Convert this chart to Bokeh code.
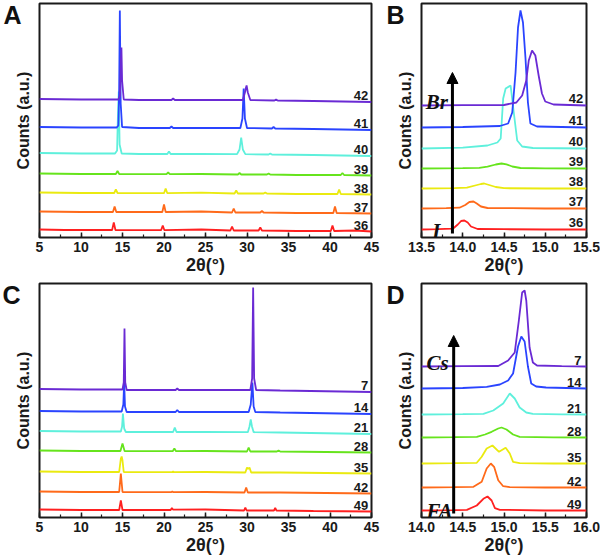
from bokeh.plotting import figure
from bokeh.layouts import gridplot
from bokeh.models import (Label, Arrow, NormalHead, SingleIntervalTicker, FixedTicker, Range1d,
                          PrintfTickFormatter, Title)
from bokeh.core.properties import value
from bokeh.embed import file_html
from bokeh.resources import INLINE

# ---------------- colours per composition (bottom -> top) ----------------
trace_colors = ["#ff2020", "#ff6a1a", "#eaea10", "#66e41c", "#5ef0dc", "#2a44ff", "#6a2ad4"]

# ---------------- Panel A: full XRD, I -> Br ----------------
a_names = ["36", "37", "38", "39", "40", "41", "42"]
a_offsets = [7, 25, 44, 63, 83, 109, 137]
a36_x = [5, 8, 12, 13.75, 13.95, 14.15, 17, 19.65, 19.85, 20.05, 24.5, 28.0, 28.2, 28.4, 31.4, 31.6, 31.8, 36, 40.1, 40.3, 40.5, 43, 45]
a36_y = [1, 0.5, 0.5, 0.5, 8, 0.5, 0.3, 0.3, 5, 0.3, 1, 0, 4, 0, 0, 3, 0, -0.5, -0.5, 5, -0.5, 0, -1]
a37_x = [5, 10, 13.85, 14.05, 14.25, 17, 19.8, 20.0, 20.2, 24.5, 28.2, 28.4, 28.6, 31.6, 31.8, 32.0, 36, 40.4, 40.6, 40.8, 45]
a37_y = [1, 0.5, 0.5, 6, 0.5, 0.5, 0.5, 8, 0.5, 1, 0, 4, 0, 0, 1.5, 0, -0.5, -0.5, 6, -0.5, -1]
a38_x = [5, 10, 14.0, 14.2, 14.4, 17, 20.0, 20.2, 20.4, 24.5, 28.5, 28.7, 28.9, 32.0, 32.2, 32.4, 36, 40.9, 41.1, 41.3, 45]
a38_y = [1, 0.5, 0.5, 4, 0.5, 0.3, 0.3, 5, 0.3, 0.8, 0, 3, 0, 0, 1, 0, -0.5, -0.5, 4, -0.5, -1]
a39_x = [5, 10, 14.2, 14.4, 14.6, 17, 20.3, 20.5, 20.7, 24.5, 28.9, 29.1, 29.3, 32.4, 32.6, 32.8, 36, 41.3, 41.5, 41.7, 45]
a39_y = [1, 0.5, 0.5, 3.5, 0.5, 0.3, 0.3, 2, 0.3, 0.5, 0, 1.5, 0, 0, 1, 0, -0.5, -0.5, 1.5, -0.5, -1]
a40_x = [5, 10, 14.1, 14.35, 14.45, 14.55, 14.65, 14.9, 17, 20.4, 20.6, 20.8, 24.5, 28.8, 29.1, 29.3, 29.5, 29.8, 32.6, 32.8, 33.0, 38, 45]
a40_y = [1.5, 1, 1, 4, 40, 63, 10, 1, 0.5, 0.5, 3, 0.5, 0.5, 0.3, 5, 17, 5, 0.3, 0, 1, 0, -0.5, -1.5]
a41_x = [5, 10, 14.3, 14.5, 14.6, 14.68, 14.78, 14.95, 17, 20.7, 20.9, 21.1, 25, 29.2, 29.45, 29.6, 29.75, 30.0, 33.0, 33.2, 33.4, 38, 45]
a41_y = [1.5, 1, 1, 3, 40, 118, 25, 1.5, 0.5, 0.5, 2, 0.5, 0.5, 0.5, 10, 40, 10, 0.5, 0, 1.5, 0, -0.5, -1.5]
a42_x = [5, 10, 14.5, 14.7, 14.8, 14.87, 14.95, 15.15, 17, 20.9, 21.1, 21.3, 25, 29.5, 29.75, 29.85, 29.95, 30.1, 30.4, 33.3, 33.5, 33.7, 38, 45]
a42_y = [1.5, 1, 1, 5, 40, 53, 20, 1, 0.5, 0.5, 2, 0.5, 0.5, 0.5, 8, 12, 15, 8, 0.5, 0, 1, 0, -0.5, -1.5]

# ---------------- Panel B: zoom of main peak, I -> Br ----------------
b_offsets = [8, 29, 49, 69, 89, 110, 132]
b36_x = [13.5, 13.7, 13.88, 13.94, 13.98, 14.02, 14.06, 14.1, 14.18, 14.5, 15.0, 15.5]
b36_y = [0, 0.3, 0.8, 5, 8.5, 9, 7, 3, 0.5, 0.3, 0, 0]
b37_x = [13.5, 13.8, 13.96, 14.03, 14.08, 14.13, 14.17, 14.22, 14.3, 14.6, 15.0, 15.5]
b37_y = [0, 0.3, 0.8, 3.5, 6.5, 7, 5, 2, 0.5, 0.3, 0, 0]
b38_x = [13.5, 13.9, 14.05, 14.15, 14.22, 14.26, 14.32, 14.4, 14.5, 15.0, 15.5]
b38_y = [0, 0.3, 0.8, 3, 4.5, 5, 3.5, 1.5, 0.3, 0, 0]
b39_x = [13.5, 14.0, 14.2, 14.3, 14.4, 14.47, 14.53, 14.6, 14.7, 15.0, 15.5]
b39_y = [0, 0.3, 0.6, 1.8, 4, 5, 4.2, 2, 0.5, 0.2, 0]
b40_x = [13.5, 14.0, 14.3, 14.42, 14.46, 14.49, 14.52, 14.58, 14.62, 14.66, 14.72, 14.85, 15.5]
b40_y = [0, 0.8, 3, 6, 10, 50, 60, 63, 35, 8, 2, 0.5, 0]
b41_x = [13.5, 14.0, 14.45, 14.55, 14.6, 14.64, 14.67, 14.7, 14.73, 14.76, 14.79, 14.82, 14.9, 15.5]
b41_y = [0, 0.5, 1.5, 4, 15, 55, 100, 117, 105, 70, 25, 4, 1, 0]
b42_x = [13.5, 14.0, 14.5, 14.65, 14.72, 14.77, 14.8, 14.84, 14.88, 14.92, 14.96, 15.0, 15.1, 15.5]
b42_y = [0, 0.3, 0.5, 3, 10, 25, 45, 55, 50, 30, 12, 4, 1, 0]

# ---------------- Panel C: full XRD, FA -> Cs ----------------
c_names = ["49", "42", "35", "28", "21", "14", "7"]
c_offsets = [7, 25, 45, 66, 85, 105, 127]
c49_x = [5, 10, 14.6, 14.8, 15.0, 18, 20.8, 20.95, 21.1, 25, 29.65, 29.8, 29.95, 33.25, 33.4, 33.55, 38, 45]
c49_y = [1, 0.5, 0.5, 10, 0.5, 0.5, 0.5, 2.5, 0.8, 1, 0, 3, 0, 0, 2.5, 0, -0.5, -1]
c42_x = [5, 10, 14.6, 14.8, 15.0, 18, 20.85, 21.0, 21.15, 25, 29.7, 29.9, 30.1, 34, 45]
c42_y = [1, 0.5, 0.5, 19, 0.5, 0.3, 0.3, 1, 0.3, 0.5, 0, 5, 0, 0, -1]
c35_x = [5, 10, 14.6, 14.8, 14.9, 15.0, 15.15, 18, 21.0, 21.1, 21.2, 25, 29.8, 30.0, 30.15, 30.3, 30.5, 34, 45]
c35_y = [1, 0.5, 0.5, 14, 16, 12, 0.5, 0.3, 0.3, 1, 0.3, 0.5, 0, 5, 3.5, 5, 0, 0, -1]
c28_x = [5, 10, 14.75, 15.0, 15.25, 18, 21.05, 21.25, 21.45, 25, 30.0, 30.2, 30.4, 33.6, 33.8, 34.0, 45]
c28_y = [1, 0.5, 0.5, 8, 0.5, 0.3, 0.3, 3, 0.3, 0.5, 0, 4, 0, 0, 1, 0, -1]
c21_x = [5, 10, 14.8, 14.95, 15.05, 15.2, 15.4, 18, 21.1, 21.3, 21.5, 25, 30.1, 30.3, 30.45, 30.6, 30.8, 34, 45]
c21_y = [1.5, 1, 1, 6, 19, 4, 0.5, 0.5, 0.5, 5, 0.5, 0.5, 0.3, 6, 13, 6, 0.3, 0, -1.5]
c14_x = [5, 10, 14.9, 15.1, 15.2, 15.3, 15.5, 18, 21.4, 21.6, 21.8, 25, 30.2, 30.45, 30.65, 30.8, 31.0, 34, 45]
c14_y = [1.5, 1, 1, 8, 30, 6, 0.5, 0.5, 0.5, 2.5, 0.5, 0.5, 0.5, 8, 30, 6, 0.5, 0, -1.5]
c7_x = [5, 10, 15.0, 15.15, 15.24, 15.33, 15.5, 18, 21.4, 21.6, 21.8, 25, 30.4, 30.62, 30.74, 30.86, 31.1, 34, 45]
c7_y = [1.5, 1, 1, 8, 62, 8, 0.5, 0.5, 0.5, 2, 0.5, 0.5, 0.5, 12, 103, 12, 0.5, 0, -1.5]

# ---------------- Panel D: zoom of main peak, FA -> Cs ----------------
d_offsets = [7, 30, 54, 80, 103, 129, 151]
d49_x = [14.0, 14.4, 14.55, 14.67, 14.75, 14.8, 14.85, 14.89, 14.95, 15.5, 16.0]
d49_y = [0, 0.3, 0.7, 5, 11.7, 14, 10, 2.3, 0.7, 0, 0]
d42_x = [14.0, 14.4, 14.63, 14.73, 14.79, 14.84, 14.88, 14.93, 14.99, 15.07, 15.5, 16.0]
d42_y = [0, 0.3, 0.7, 5.7, 19, 24, 20.7, 7.3, 1.3, 0.3, 0, 0]
d35_x = [14.0, 14.4, 14.67, 14.73, 14.79, 14.86, 14.94, 15.02, 15.07, 15.11, 15.19, 15.6, 16.0]
d35_y = [0, 0.3, 0.7, 6.7, 15, 18, 11.7, 15.7, 10, 1.7, 0.3, 0, 0]
d28_x = [14.0, 14.4, 14.67, 14.77, 14.85, 14.93, 14.97, 15.03, 15.11, 15.19, 15.6, 16.0]
d28_y = [0, 0.3, 0.7, 3, 5.7, 9, 10, 8, 3, 0.7, 0.2, 0]
d21_x = [14.0, 14.5, 14.75, 14.87, 14.99, 15.07, 15.13, 15.19, 15.27, 15.35, 15.7, 16.0]
d21_y = [0, 0.3, 0.7, 4, 11, 21, 16, 7, 2, 0.7, 0.2, 0]
d14_x = [14.0, 14.5, 14.79, 14.95, 15.05, 15.11, 15.17, 15.21, 15.25, 15.29, 15.33, 15.39, 15.51, 16.0]
d14_y = [0, 0.5, 1.7, 4, 8, 15, 42, 52, 47, 22, 5, 2, 1, 0]
d7_x = [14.0, 14.5, 14.93, 15.05, 15.13, 15.18, 15.22, 15.25, 15.27, 15.31, 15.35, 15.4, 15.7, 16.0]
d7_y = [0, 0.3, 0.5, 6, 14, 46, 74, 76, 66, 19, 4, 1, 0.3, 0]

a_traces = [(a36_x, a36_y), (a37_x, a37_y), (a38_x, a38_y), (a39_x, a39_y), (a40_x, a40_y), (a41_x, a41_y), (a42_x, a42_y)]
b_traces = [(b36_x, b36_y), (b37_x, b37_y), (b38_x, b38_y), (b39_x, b39_y), (b40_x, b40_y), (b41_x, b41_y), (b42_x, b42_y)]
c_traces = [(c49_x, c49_y), (c42_x, c42_y), (c35_x, c35_y), (c28_x, c28_y), (c21_x, c21_y), (c14_x, c14_y), (c7_x, c7_y)]
d_traces = [(d49_x, d49_y), (d42_x, d42_y), (d35_x, d35_y), (d28_x, d28_y), (d21_x, d21_y), (d14_x, d14_y), (d7_x, d7_y)]

SANS = "Liberation Sans"
SERIF = "Liberation Serif"


def make_panel(xr, interval, fmt, width, height, left, right, bottom,
               traces, offsets, names, label_x, label_dy, letter, letter_offset):
    p = figure(width=width, height=height, output_backend="svg", toolbar_location=None,
               x_range=Range1d(*xr), y_range=Range1d(0, 234),
               min_border_left=left, min_border_right=right, min_border_top=3,
               min_border_bottom=bottom)
    p.xgrid.visible = False
    p.ygrid.visible = False
    p.outline_line_color = "#1a1a1a"
    p.outline_line_width = 2
    p.background_fill_color = "white"
    p.border_fill_color = "white"

    # panel letter as a title that takes no room (negative standoff)
    p.title = Title(text=letter, align="left", vertical_align="bottom", offset=letter_offset,
                    standoff=-51, text_font=SANS, text_font_style="bold",
                    text_font_size="25px", text_color="#111111")

    xa = p.xaxis[0]
    xa.ticker = SingleIntervalTicker(interval=interval, num_minor_ticks=2)
    xa.formatter = PrintfTickFormatter(format=fmt)
    xa.axis_line_color = None
    xa.major_tick_in = 5
    xa.major_tick_out = 0
    xa.minor_tick_in = 3
    xa.minor_tick_out = 0
    xa.major_tick_line_width = 1.5
    xa.minor_tick_line_width = 1.2
    xa.major_tick_line_color = "#1a1a1a"
    xa.minor_tick_line_color = "#1a1a1a"
    xa.major_label_text_font = SANS
    xa.major_label_text_font_style = "bold"
    xa.major_label_text_font_size = "14px"
    xa.major_label_text_color = "#1a1a1a"
    xa.major_label_standoff = 4
    xa.axis_label = "2θ(°)"
    xa.axis_label_text_font = SANS
    xa.axis_label_text_font_style = "bold"
    xa.axis_label_text_font_size = "18px"
    xa.axis_label_text_color = "#1a1a1a"
    xa.axis_label_standoff = 0

    ya = p.yaxis[0]
    ya.ticker = FixedTicker(ticks=[])
    ya.axis_line_color = None
    ya.major_tick_in = 0
    ya.major_tick_out = 0
    ya.minor_tick_in = 0
    ya.minor_tick_out = 0
    ya.major_label_standoff = 0
    ya.axis_label = "Counts (a.u.)"
    ya.axis_label_text_font = SANS
    ya.axis_label_text_font_style = "bold"
    ya.axis_label_text_font_size = "16px"
    ya.axis_label_text_color = "#1a1a1a"
    ya.axis_label_standoff = 8

    for (xs, hs), off, col, nm in zip(traces, offsets, trace_colors, names):
        ys = [off + h for h in hs]
        p.line(xs, ys, line_color=col, line_width=1.8)
        p.text(x=[label_x], y=[off + label_dy], text=[nm], text_align="right",
               text_baseline="middle", text_font=value(SANS), text_font_style="bold",
               text_font_size="13px", text_color="#1a1a1a")
    return p


pA = make_panel((5, 45), 5, "%d", 380, 280, 39, 9, 43, a_traces, a_offsets, a_names, 44.6, 5, "A", -36)
pB = make_panel((13.5, 15.5), 0.5, "%.1f", 220, 280, 41, 14, 43, b_traces, b_offsets, a_names, 15.46, 7, "B", -35)
pC = make_panel((5, 45), 5, "%d", 380, 279, 39, 9, 42, c_traces, c_offsets, c_names, 44.6, 5, "C", -37)
pD = make_panel((14.0, 16.0), 0.5, "%.1f", 220, 279, 41, 14, 42, d_traces, d_offsets, c_names, 15.94, 6, "D", -35)

# arrows and composition labels
b_arrow_x, b_arrow_y0, b_arrow_y1 = 13.875, 4, 165
d_arrow_x, d_arrow_y0, d_arrow_y1 = 14.39, 4, 182
for p, ax, y0, y1 in [(pB, b_arrow_x, b_arrow_y0, b_arrow_y1), (pD, d_arrow_x, d_arrow_y0, d_arrow_y1)]:
    p.add_layout(Arrow(end=NormalHead(size=11, fill_color="black", line_color="black", line_width=1),
                       x_start=ax, y_start=y0, x_end=ax, y_end=y1,
                       line_color="black", line_width=3))


def comp_label(p, x, y, t):
    p.add_layout(Label(x=x, y=y, text=t, text_font=SERIF, text_font_style="bold italic",
                       text_font_size="21px", text_color="#111111", text_baseline="alphabetic"))


comp_label(pB, 13.55, 136, "Br")
comp_label(pB, 13.63, 7, "I")
comp_label(pD, 14.06, 155, "Cs")
comp_label(pD, 14.06, 7, "FA")

grid = gridplot([[pA, pB], [pC, pD]], toolbar_location=None)

open("out.html", "w").write(file_html(grid, INLINE))
